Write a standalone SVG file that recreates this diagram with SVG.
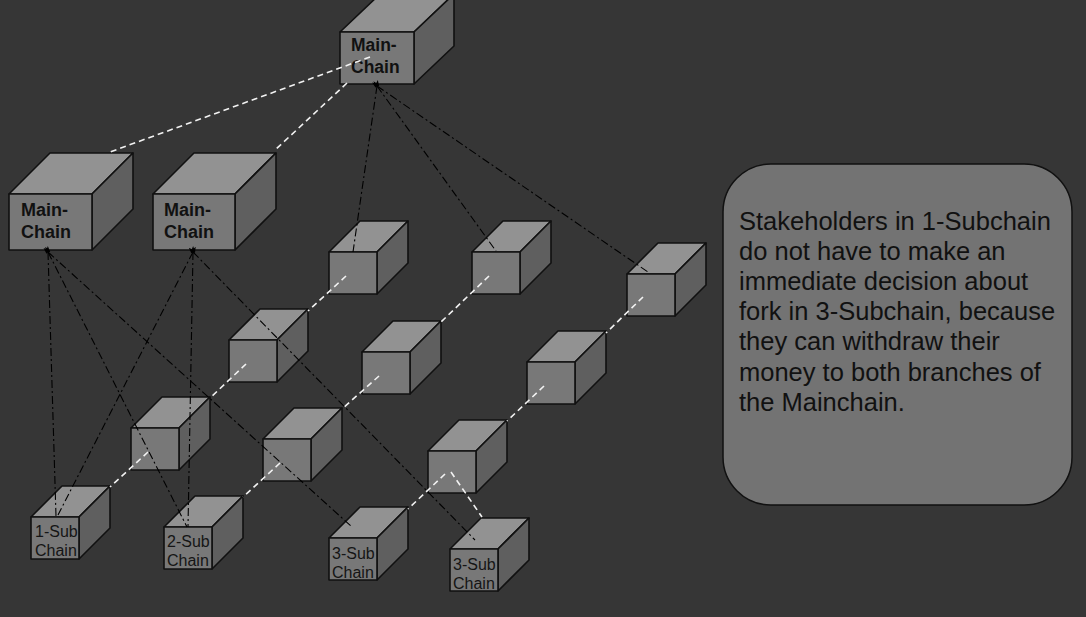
<svg xmlns="http://www.w3.org/2000/svg" width="1086" height="617" viewBox="0 0 1086 617">
<defs>
<style>
.front{fill:#787878;stroke:#111;stroke-width:1.6;stroke-linejoin:round}
.top{fill:#929292;stroke:#111;stroke-width:1.6;stroke-linejoin:round}
.side{fill:#5f5f5f;stroke:#111;stroke-width:1.6;stroke-linejoin:round}
.big{font-family:"Liberation Sans",Arial,sans-serif;font-weight:bold;fill:#111}
.sub{font-family:"Liberation Sans",Arial,sans-serif;font-size:16px;fill:#151515}
.note{font-family:"Liberation Sans",Arial,sans-serif;font-size:25.5px;fill:#111}
.link{fill:none;stroke:#f2f2f2;stroke-width:1.6;stroke-dasharray:6 4}
.anchor{fill:none;stroke:#000;stroke-width:1.1;stroke-dasharray:8 3 2 3}
</style>
<marker id="tip" viewBox="0 0 6 6" refX="0" refY="3" markerWidth="6" markerHeight="6" markerUnits="userSpaceOnUse" orient="auto-start-reverse">
<path d="M0,0.8 L6,3 L0,5.2 z" fill="#000"/>
</marker>
</defs>
<rect x="0" y="0" width="1086" height="617" fill="#363636"/>

<g id="nodes">
<g id="main-top">
<polygon class="top" points="340,32 414,32 454,-6 380,-6"/>
<polygon class="side" points="414,32 454,-6 454,46 414,84"/>
<rect class="front" x="340" y="32" width="74" height="52"/>
<text class="big" font-size="17.5" x="351" y="51">Main-</text>
<text class="big" font-size="17.5" x="351" y="73">Chain</text>
</g>
<g id="main-1">
<polygon class="top" points="9,194 92,194 133,153 50,153"/>
<polygon class="side" points="92,194 133,153 133,209 92,250"/>
<rect class="front" x="9" y="194" width="83" height="56"/>
<text class="big" font-size="18" x="21" y="216">Main-</text>
<text class="big" font-size="18" x="21" y="238">Chain</text>
</g>
<g id="main-2">
<polygon class="top" points="153,194 235,194 276,153 194,153"/>
<polygon class="side" points="235,194 276,153 276,209 235,250"/>
<rect class="front" x="153" y="194" width="82" height="56"/>
<text class="big" font-size="18" x="164" y="216">Main-</text>
<text class="big" font-size="18" x="164" y="238">Chain</text>
</g>

<g id="block-a" transform="translate(329,252)">
<polygon class="top" points="0,0 48,0 79,-31 31,-31"/><polygon class="side" points="48,0 79,-31 79,11 48,42"/><rect class="front" x="0" y="0" width="48" height="42"/>
</g>
<g id="block-c" transform="translate(472,252)">
<polygon class="top" points="0,0 48,0 79,-31 31,-31"/><polygon class="side" points="48,0 79,-31 79,11 48,42"/><rect class="front" x="0" y="0" width="48" height="42"/>
</g>
<g id="block-d" transform="translate(627,274)">
<polygon class="top" points="0,0 48,0 79,-31 31,-31"/><polygon class="side" points="48,0 79,-31 79,11 48,42"/><rect class="front" x="0" y="0" width="48" height="42"/>
</g>
<g id="block-b" transform="translate(229,340)">
<polygon class="top" points="0,0 48,0 79,-31 31,-31"/><polygon class="side" points="48,0 79,-31 79,11 48,42"/><rect class="front" x="0" y="0" width="48" height="42"/>
</g>
<g id="block-m" transform="translate(362,352)">
<polygon class="top" points="0,0 48,0 79,-31 31,-31"/><polygon class="side" points="48,0 79,-31 79,11 48,42"/><rect class="front" x="0" y="0" width="48" height="42"/>
</g>
<g id="block-e" transform="translate(527,362)">
<polygon class="top" points="0,0 48,0 79,-31 31,-31"/><polygon class="side" points="48,0 79,-31 79,11 48,42"/><rect class="front" x="0" y="0" width="48" height="42"/>
</g>
<g id="block-f" transform="translate(131,428)">
<polygon class="top" points="0,0 48,0 79,-31 31,-31"/><polygon class="side" points="48,0 79,-31 79,11 48,42"/><rect class="front" x="0" y="0" width="48" height="42"/>
</g>
<g id="block-g" transform="translate(263,439)">
<polygon class="top" points="0,0 48,0 79,-31 31,-31"/><polygon class="side" points="48,0 79,-31 79,11 48,42"/><rect class="front" x="0" y="0" width="48" height="42"/>
</g>
<g id="block-h" transform="translate(428,451)">
<polygon class="top" points="0,0 48,0 79,-31 31,-31"/><polygon class="side" points="48,0 79,-31 79,11 48,42"/><rect class="front" x="0" y="0" width="48" height="42"/>
</g>
<g id="sub-1" transform="translate(31,517)">
<polygon class="top" points="0,0 48,0 79,-31 31,-31"/><polygon class="side" points="48,0 79,-31 79,11 48,42"/><rect class="front" x="0" y="0" width="48" height="42"/>
<text class="sub" x="4" y="20">1-Sub</text><text class="sub" x="4" y="39">Chain</text>
</g>
<g id="sub-2" transform="translate(164,527)">
<polygon class="top" points="0,0 48,0 79,-31 31,-31"/><polygon class="side" points="48,0 79,-31 79,11 48,42"/><rect class="front" x="0" y="0" width="48" height="42"/>
<text class="sub" x="3" y="20">2-Sub</text><text class="sub" x="3" y="39">Chain</text>
</g>
<g id="sub-3a" transform="translate(329,538)">
<polygon class="top" points="0,0 48,0 79,-31 31,-31"/><polygon class="side" points="48,0 79,-31 79,11 48,42"/><rect class="front" x="0" y="0" width="48" height="42"/>
<text class="sub" x="3" y="21">3-Sub</text><text class="sub" x="3" y="40">Chain</text>
</g>
<g id="sub-3b" transform="translate(450,549)">
<polygon class="top" points="0,0 48,0 79,-31 31,-31"/><polygon class="side" points="48,0 79,-31 79,11 48,42"/><rect class="front" x="0" y="0" width="48" height="42"/>
<text class="sub" x="3" y="21">3-Sub</text><text class="sub" x="3" y="40">Chain</text>
</g>

<g id="note">
<rect x="723" y="164" width="349" height="341" rx="48" ry="48" fill="#737373" stroke="#111" stroke-width="1.5"/>
<text class="note" x="739" y="230">Stakeholders in 1-Subchain</text>
<text class="note" x="739" y="260.1">do not have to make an</text>
<text class="note" x="739" y="290.2">immediate decision about</text>
<text class="note" x="739" y="320.3">fork in 3-Subchain, because</text>
<text class="note" x="739" y="350.4">they can withdraw their</text>
<text class="note" x="739" y="380.5">money to both branches of</text>
<text class="note" x="739" y="410.6">the Mainchain.</text>
</g>
</g>

<g id="connectors">
<line class="link" x1="370" y1="57" x2="110" y2="152"/>
<line class="link" x1="347" y1="83" x2="274" y2="151"/>
<line class="link" x1="346" y1="276" x2="308" y2="311"/>
<line class="link" x1="246" y1="364" x2="210" y2="398"/>
<line class="link" x1="148" y1="452" x2="110" y2="487"/>
<line class="link" x1="489" y1="276" x2="441" y2="322"/>
<line class="link" x1="379" y1="376" x2="342" y2="409"/>
<line class="link" x1="280" y1="463" x2="243" y2="497"/>
<line class="link" x1="643" y1="297" x2="606" y2="333"/>
<line class="link" x1="544" y1="386" x2="507" y2="421"/>
<line class="link" x1="445" y1="474" x2="408" y2="509"/>
<line class="link" x1="451" y1="472" x2="482" y2="517"/>

<line class="anchor" marker-start="url(#tip)" x1="377" y1="86" x2="353" y2="252"/>
<line class="anchor" marker-start="url(#tip)" x1="377" y1="86" x2="496" y2="251"/>
<line class="anchor" marker-start="url(#tip)" x1="377" y1="86" x2="648" y2="272"/>
<line class="anchor" marker-start="url(#tip)" x1="48" y1="252" x2="56" y2="516"/>
<line class="anchor" marker-start="url(#tip)" x1="48" y1="252" x2="187" y2="527"/>
<line class="anchor" marker-start="url(#tip)" x1="48" y1="252" x2="352" y2="527"/>
<line class="anchor" marker-start="url(#tip)" x1="193" y1="252" x2="58" y2="515"/>
<line class="anchor" marker-start="url(#tip)" x1="193" y1="252" x2="188" y2="527"/>
<line class="anchor" marker-start="url(#tip)" x1="193" y1="252" x2="475" y2="540"/>
</g>
</svg>
